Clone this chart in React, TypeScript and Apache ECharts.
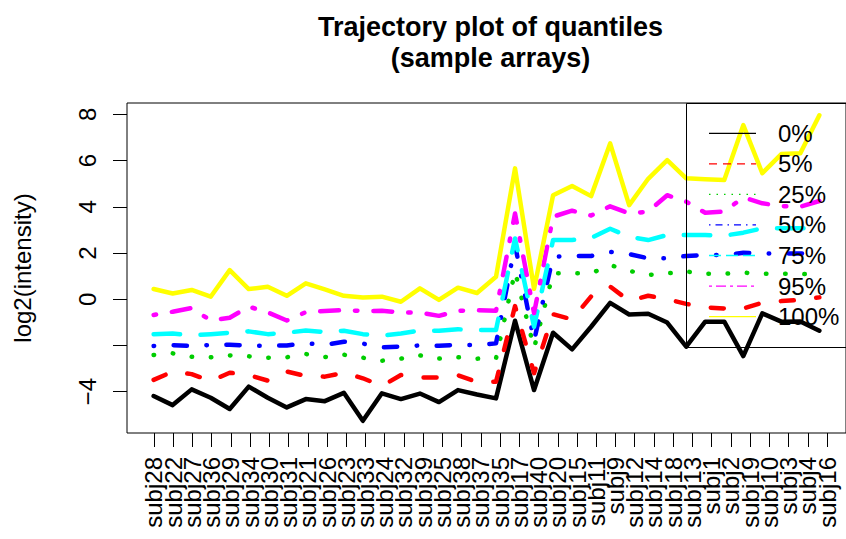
import React, { useEffect, useRef } from "react";
import * as echarts from "echarts";

const subjects = ["subj28","subj22","subj27","subj36","subj29","subj34","subj30","subj31","subj21","subj26","subj23","subj33","subj24","subj32","subj39","subj25","subj38","subj37","subj35","subj17","subj40","subj20","subj15","subj11","subj9","subj12","subj14","subj18","subj13","subj1","subj2","subj19","subj10","subj3","subj4","subj16"];

const q0 = [-4.19,-4.58,-3.90,-4.26,-4.75,-3.78,-4.26,-4.68,-4.32,-4.41,-4.05,-5.26,-4.07,-4.32,-4.08,-4.45,-3.93,-4.12,-4.29,-0.93,-3.93,-1.45,-2.17,-1.19,-0.16,-0.66,-0.63,-1.01,-2.05,-0.97,-0.97,-2.46,-0.61,-0.97,-0.96,-1.36];
const q5 = [-3.49,-3.13,-3.24,-3.54,-3.18,-3.28,-3.52,-3.13,-3.32,-3.35,-3.18,-3.42,-3.75,-3.28,-3.39,-3.38,-3.29,-3.58,-3.57,-0.30,-3.20,-0.65,-0.87,0.12,0.55,-0.07,0.15,0.00,-0.20,-0.35,-0.40,-0.40,-0.15,-0.08,-0.03,0.08];
const q25 = [-2.41,-2.34,-2.49,-2.51,-2.43,-2.47,-2.53,-2.51,-2.37,-2.50,-2.40,-2.53,-2.66,-2.57,-2.43,-2.57,-2.51,-2.57,-2.56,1.20,-2.12,1.12,1.12,1.12,1.48,1.23,1.05,1.12,1.20,1.10,1.10,1.15,1.10,1.10,1.10,1.05];
const q50 = [-2.02,-1.99,-2.02,-1.98,-1.97,-2.01,-2.01,-2.00,-1.91,-1.97,-1.84,-1.92,-2.08,-2.05,-2.00,-2.01,-1.97,-1.98,-1.91,2.35,-1.80,1.84,1.87,1.87,2.05,1.95,1.77,1.77,1.87,1.91,1.91,2.01,1.98,1.98,1.98,2.00];
const q75 = [-1.51,-1.48,-1.56,-1.51,-1.45,-1.39,-1.51,-1.45,-1.35,-1.42,-1.36,-1.51,-1.58,-1.48,-1.36,-1.36,-1.30,-1.33,-1.33,2.63,-1.19,2.56,2.56,2.65,3.05,2.70,2.56,2.78,2.78,2.78,2.75,2.88,3.07,3.07,3.07,3.07];
const q95 = [-0.68,-0.54,-0.38,-0.92,-0.80,-0.32,-0.57,-0.92,-0.56,-0.51,-0.47,-0.51,-0.50,-0.57,-0.58,-0.72,-0.50,-0.48,-0.50,3.71,-0.60,3.57,3.83,3.62,4.02,3.71,3.79,4.50,4.22,3.74,3.79,4.41,4.15,4.03,4.00,4.25];
const q100 = [0.44,0.25,0.40,0.11,1.26,0.44,0.54,0.15,0.69,0.43,0.15,0.07,0.11,-0.11,0.47,-0.03,0.50,0.27,0.97,5.66,0.45,4.50,4.90,4.46,6.74,4.07,5.21,6.02,5.23,5.19,5.16,7.53,5.45,6.28,6.31,7.96];

const seriesNames = ["0%", "5%", "25%", "50%", "75%", "95%", "100%"];
const seriesValues = [q0, q5, q25, q50, q75, q95, q100];
const yTicks = [-4, -2, 0, 2, 4, 6, 8];
const yLabels = [-4, 0, 2, 4, 6, 8];

const colors = ["#000000", "#FF0000", "#00CD00", "#0000FF", "#00FFFF", "#FF00FF", "#FFFF00"];
const thickDash: (number[] | "solid")[] = [
  "solid",
  [13, 22.5],
  [0.5, 18.7],
  [0.5, 19.5, 13.3, 19.5],
  [26.5, 20.5],
  [2.5, 16, 18.8, 16],
  "solid",
];
const thinDash: (number[] | null)[] = [
  null,
  [8, 6],
  [1.5, 6],
  [1.5, 5, 7, 5],
  [12, 5],
  [3, 4, 10, 4],
  null,
];

const FONT = "'Liberation Sans', Arial, Helvetica, sans-serif";

export default function App() {
  const ref = useRef<HTMLDivElement>(null);
  useEffect(() => {
    if (!ref.current) return;
    const chart = echarts.init(ref.current, undefined, { renderer: "svg" });

    const legendX = 686;
    const legendTop = 103;
    const rowY0 = 133.3;
    const rowStep = 30.55;

    // plot geometry: R's 4% axis extension around 36 categories
    const plotLeft = 127;
    const plotTop = 103;
    const plotH = 330;
    const step = 19.231;
    const xMin = -1.4;
    const xMax = subjects.length - 1 + 1.4;
    const plotW = (xMax - xMin) * step;

    const graphics: any[] = [
      {
        type: "text",
        x: 490.5,
        y: 27,
        z: 100,
        style: { text: "Trajectory plot of quantiles", font: `bold 27px ${FONT}`, fill: "#000", textAlign: "center", textVerticalAlign: "middle" },
      },
      {
        type: "text",
        x: 490.5,
        y: 58,
        z: 100,
        style: { text: "(sample arrays)", font: `bold 27px ${FONT}`, fill: "#000", textAlign: "center", textVerticalAlign: "middle" },
      },
      {
        type: "rect",
        z: 100,
        shape: { x: legendX + 0.5, y: legendTop + 0.5, width: 200, height: 244 },
        style: { fill: "none", stroke: "#000", lineWidth: 1 },
      },
    ];
    seriesNames.forEach((name, k) => {
      const y = rowY0 + k * rowStep;
      graphics.push({
        type: "line",
        z: 100,
        shape: { x1: 709, y1: y, x2: 756, y2: y },
        style: { stroke: colors[k], lineWidth: 1.3, lineDash: thinDash[k] || undefined },
      });
      graphics.push({
        type: "text",
        z: 100,
        x: 778,
        y: y,
        style: { text: name, font: `24px ${FONT}`, fill: "#000", textAlign: "left", textVerticalAlign: "middle" },
      });
    });

    chart.setOption({
      animation: false,
      backgroundColor: "#fff",
      grid: [
        {
          show: true,
          left: plotLeft,
          top: plotTop,
          width: plotW,
          height: plotH,
          borderColor: "#000",
          borderWidth: 1,
          containLabel: false,
        },
        {
          show: false,
          left: plotLeft - xMin * step,
          top: plotTop,
          width: (subjects.length - 1) * step,
          height: plotH,
          containLabel: false,
        },
      ],
      xAxis: [
        {
          type: "value",
          gridIndex: 0,
          min: xMin,
          max: xMax,
          axisLine: { show: false, onZero: false },
          splitLine: { show: false },
          axisTick: { show: false },
          axisLabel: { show: false },
        },
        {
          type: "category",
          gridIndex: 1,
          data: subjects,
          boundaryGap: false,
          position: "bottom",
          axisLine: { show: false, onZero: false },
          splitLine: { show: false },
          axisTick: { show: true, interval: 0, length: 14, lineStyle: { color: "#000", width: 1 } },
          axisLabel: {
            show: true,
            interval: 0,
            rotate: 90,
            margin: 24,
            fontSize: 24,
            fontFamily: FONT,
            color: "#000",
          },
        },
      ],
      yAxis: [
        {
          type: "value",
          gridIndex: 0,
          min: -5.787,
          max: 8.489,
          position: "left",
          axisLine: { show: false, onZero: false },
          splitLine: { show: false },
          axisTick: { show: true, length: 14, customValues: yTicks, lineStyle: { color: "#000", width: 1 } },
          axisLabel: {
            show: true,
            customValues: yLabels,
            showMinLabel: true,
            showMaxLabel: true,
            hideOverlap: false,
            rotate: 90,
            margin: 28,
            fontSize: 24,
            fontFamily: FONT,
            color: "#000",
            formatter: (v: number) => (v < 0 ? "\u2212" + Math.abs(v) : String(v)),
          },
          name: "log2(intensity)",
          nameLocation: "middle",
          nameRotate: 90,
          nameGap: 93,
          nameTextStyle: { fontSize: 24, fontFamily: FONT, color: "#000" },
        },
        {
          type: "value",
          gridIndex: 1,
          show: false,
        },
      ],
      series: seriesValues.map((vals, k) => ({
        name: seriesNames[k],
        type: "line",
        xAxisIndex: 0,
        yAxisIndex: 0,
        data: vals.map((v, i) => [i, v]),
        symbol: "none",
        showSymbol: false,
        silent: true,
        clip: false,
        lineStyle: { color: colors[k], width: 4.5, type: thickDash[k], cap: "round", join: "round" },
        emphasis: { disabled: true },
        z: 2 + k,
      })),
      graphic: graphics,
    });

    return () => chart.dispose();
  }, []);

  return <div ref={ref} style={{ position: "absolute", left: 0, top: 0, width: 846, height: 539 }} />;
}
